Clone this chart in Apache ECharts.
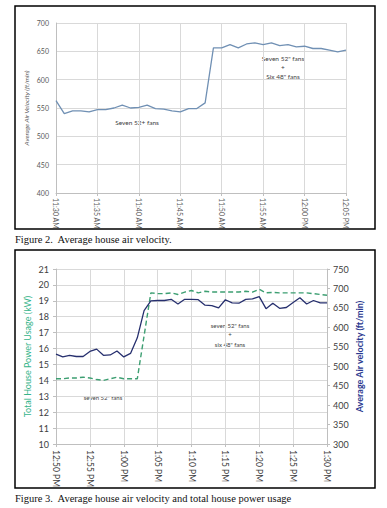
<!DOCTYPE html>
<html>
<head>
<meta charset="utf-8">
<script src="https://cdn.jsdelivr.net/npm/echarts@6/dist/echarts.min.js"></script>
<style>
html,body{margin:0;padding:0;background:#fff;}
#c{width:387px;height:508px;}
</style>
</head>
<body>
<div id="c"></div>
<script>
// ---- Figure 2 data ----
var times2 = ['11:30 AM','11:31 AM','11:32 AM','11:33 AM','11:34 AM','11:35 AM','11:36 AM','11:37 AM','11:38 AM','11:39 AM',
  '11:40 AM','11:41 AM','11:42 AM','11:43 AM','11:44 AM','11:45 AM','11:46 AM','11:47 AM','11:48 AM','11:49 AM',
  '11:50 AM','11:51 AM','11:52 AM','11:53 AM','11:54 AM','11:55 AM','11:56 AM','11:57 AM','11:58 AM','11:59 AM',
  '12:00 PM','12:01 PM','12:02 PM','12:03 PM','12:04 PM','12:05 PM'];
var velocity2 = [563,540,545,545,543,547,547,550,555,550,551,555,549,548,545,543,549,549,559,656,
  656,662,656,663,665,662,665,660,662,658,659,655,655,652,649,652];

// ---- Figure 3 data ----
var times3 = ['12:50 PM','12:51 PM','12:52 PM','12:53 PM','12:54 PM','12:55 PM','12:56 PM','12:57 PM','12:58 PM','12:59 PM',
  '1:00 PM','1:01 PM','1:02 PM','1:03 PM','1:04 PM','1:05 PM','1:06 PM','1:07 PM','1:08 PM','1:09 PM',
  '1:10 PM','1:11 PM','1:12 PM','1:13 PM','1:14 PM','1:15 PM','1:16 PM','1:17 PM','1:18 PM','1:19 PM',
  '1:20 PM','1:21 PM','1:22 PM','1:23 PM','1:24 PM','1:25 PM','1:26 PM','1:27 PM','1:28 PM','1:29 PM','1:30 PM'];
var power3 = [14.1,14.1,14.15,14.15,14.2,14.15,14.05,14.0,14.1,14.2,14.1,14.1,14.1,16.8,19.5,19.45,19.45,19.5,19.4,19.55,
  19.65,19.5,19.6,19.55,19.55,19.55,19.55,19.55,19.6,19.55,19.72,19.5,19.53,19.5,19.5,19.5,19.5,19.5,19.45,19.4,19.35];
var velocity3 = [531,524,528,525,525,538,544,528,529,539,524,533,573,643,668,669,669,672,660,672,
  672,671,657,656,650,671,663,662,672,673,679,648,662,649,651,664,676,660,669,663,663];

var FONT = 'Lato';
var gridCol = '#d9d9d9';
var axisCol = '#bfbfbf';
var labCol = '#595959';

var chart = echarts.init(document.getElementById('c'), null, {renderer: 'svg'});
chart.setOption({
  animation: false,
  backgroundColor: '#ffffff',
  textStyle: {fontFamily: FONT},
  grid: [
    {left: 56, right: 41, top: 23, height: 170, outerBoundsMode: 'none', containLabel: false},
    {left: 56, right: 60, top: 269, height: 175, outerBoundsMode: 'none', containLabel: false}
  ],
  xAxis: [
    {
      gridIndex: 0, type: 'category', data: times2, boundaryGap: false,
      axisLine: {lineStyle: {color: axisCol}},
      axisTick: {show: true, interval: 4, length: 3, lineStyle: {color: axisCol}},
      axisLabel: {interval: 4, rotate: -90, color: labCol, fontSize: 7, fontFamily: FONT, margin: 5},
      splitLine: {show: true, interval: 4, lineStyle: {color: gridCol, width: 1}}
    },
    {
      gridIndex: 1, type: 'category', data: times3, boundaryGap: false,
      axisLine: {lineStyle: {color: axisCol}},
      axisTick: {show: true, interval: 4, length: 3, lineStyle: {color: axisCol}},
      axisLabel: {interval: 4, rotate: -90, color: '#404040', fontSize: 8.5, fontFamily: FONT, margin: 6},
      splitLine: {show: true, interval: 4, lineStyle: {color: gridCol, width: 1}}
    }
  ],
  yAxis: [
    {
      gridIndex: 0, type: 'value', min: 400, max: 700, interval: 50,
      name: 'Average Air Velocity (ft/min)', nameLocation: 'middle', nameRotate: 90, nameGap: 26,
      nameMoveOverlap: false,
      nameTextStyle: {color: labCol, fontSize: 6.5, fontStyle: 'italic', fontFamily: FONT},
      axisLine: {show: true, lineStyle: {color: axisCol}},
      axisTick: {show: false},
      axisLabel: {color: labCol, fontSize: 7, fontFamily: FONT, margin: 7},
      splitLine: {show: true, lineStyle: {color: gridCol, width: 1}}
    },
    {
      gridIndex: 1, type: 'value', min: 10, max: 21, interval: 1,
      name: 'Total House Power Usage (kW)', nameLocation: 'middle', nameRotate: 90, nameGap: 24,
      nameMoveOverlap: false,
      nameTextStyle: {color: '#36b48a', fontSize: 9, fontFamily: FONT},
      axisLine: {show: true, lineStyle: {color: axisCol}},
      axisTick: {show: true, length: 3, lineStyle: {color: axisCol}},
      axisLabel: {color: '#404040', fontSize: 9, fontFamily: FONT, margin: 7},
      splitLine: {show: true, lineStyle: {color: gridCol, width: 1}}
    },
    {
      gridIndex: 1, type: 'value', min: 300, max: 750, interval: 50, position: 'right',
      name: 'Average Air velocity (ft/min)', nameLocation: 'middle', nameRotate: 90, nameGap: 28,
      nameMoveOverlap: false,
      nameTextStyle: {color: '#2b3990', fontSize: 9, fontWeight: 'bold', fontFamily: FONT},
      axisLine: {show: true, lineStyle: {color: axisCol}},
      axisTick: {show: true, length: 3, lineStyle: {color: axisCol}},
      axisLabel: {color: '#404040', fontSize: 9, fontFamily: FONT, margin: 6},
      splitLine: {show: false}
    }
  ],
  series: [
    {
      type: 'line', xAxisIndex: 0, yAxisIndex: 0, data: velocity2,
      showSymbol: false, symbol: 'none',
      lineStyle: {color: '#7090b4', width: 1.3}
    },
    {
      type: 'line', xAxisIndex: 1, yAxisIndex: 1, data: power3,
      showSymbol: false, symbol: 'none',
      lineStyle: {color: '#3d9f72', width: 1.4, type: [5, 3]}
    },
    {
      type: 'line', xAxisIndex: 1, yAxisIndex: 2, data: velocity3,
      showSymbol: false, symbol: 'none',
      lineStyle: {color: '#262f6e', width: 1.3}
    }
  ],
  graphic: [
    {type: 'rect', shape: {x: 15, y: 6, width: 360, height: 223}, style: {fill: 'none', stroke: '#000', lineWidth: 1.5}, z: 100},
    {type: 'rect', shape: {x: 15, y: 250, width: 360, height: 238}, style: {fill: 'none', stroke: '#000', lineWidth: 1.5}, z: 100},
    {type: 'text', x: 15, y: 239, style: {text: 'Figure 2.  Average house air velocity.', font: '10.5px "Liberation Serif"', fill: '#111', verticalAlign: 'middle', align: 'left'}},
    {type: 'text', x: 15, y: 498, style: {text: 'Figure 3.  Average house air velocity and total house power usage', font: '10.5px "Liberation Serif"', fill: '#111', verticalAlign: 'middle', align: 'left'}},
    {type: 'text', x: 283, y: 58, style: {text: 'Seven 52" fans', font: '6.5px "Lato"', fill: '#404040', align: 'center', verticalAlign: 'middle'}},
    {type: 'text', x: 283, y: 67, style: {text: '+', font: '6.5px "Lato"', fill: '#404040', align: 'center', verticalAlign: 'middle'}},
    {type: 'text', x: 283, y: 76, style: {text: 'Six 48" fans', font: '6.5px "Lato"', fill: '#404040', align: 'center', verticalAlign: 'middle'}},
    {type: 'text', x: 137, y: 122, style: {text: 'Seven 52+ fans', font: '6.5px "Lato"', fill: '#404040', align: 'center', verticalAlign: 'middle'}},
    {type: 'text', x: 230, y: 325, style: {text: 'seven 52" fans', font: '6px "Lato"', fill: '#404040', align: 'center', verticalAlign: 'middle'}},
    {type: 'text', x: 230, y: 334, style: {text: '+', font: '6px "Lato"', fill: '#404040', align: 'center', verticalAlign: 'middle'}},
    {type: 'text', x: 230, y: 344, style: {text: 'six 48" fans', font: '6px "Lato"', fill: '#404040', align: 'center', verticalAlign: 'middle'}},
    {type: 'text', x: 103, y: 397, style: {text: 'seven 52" fans', font: '6px "Lato"', fill: '#404040', align: 'center', verticalAlign: 'middle'}}
  ]
});
</script>
</body>
</html>
